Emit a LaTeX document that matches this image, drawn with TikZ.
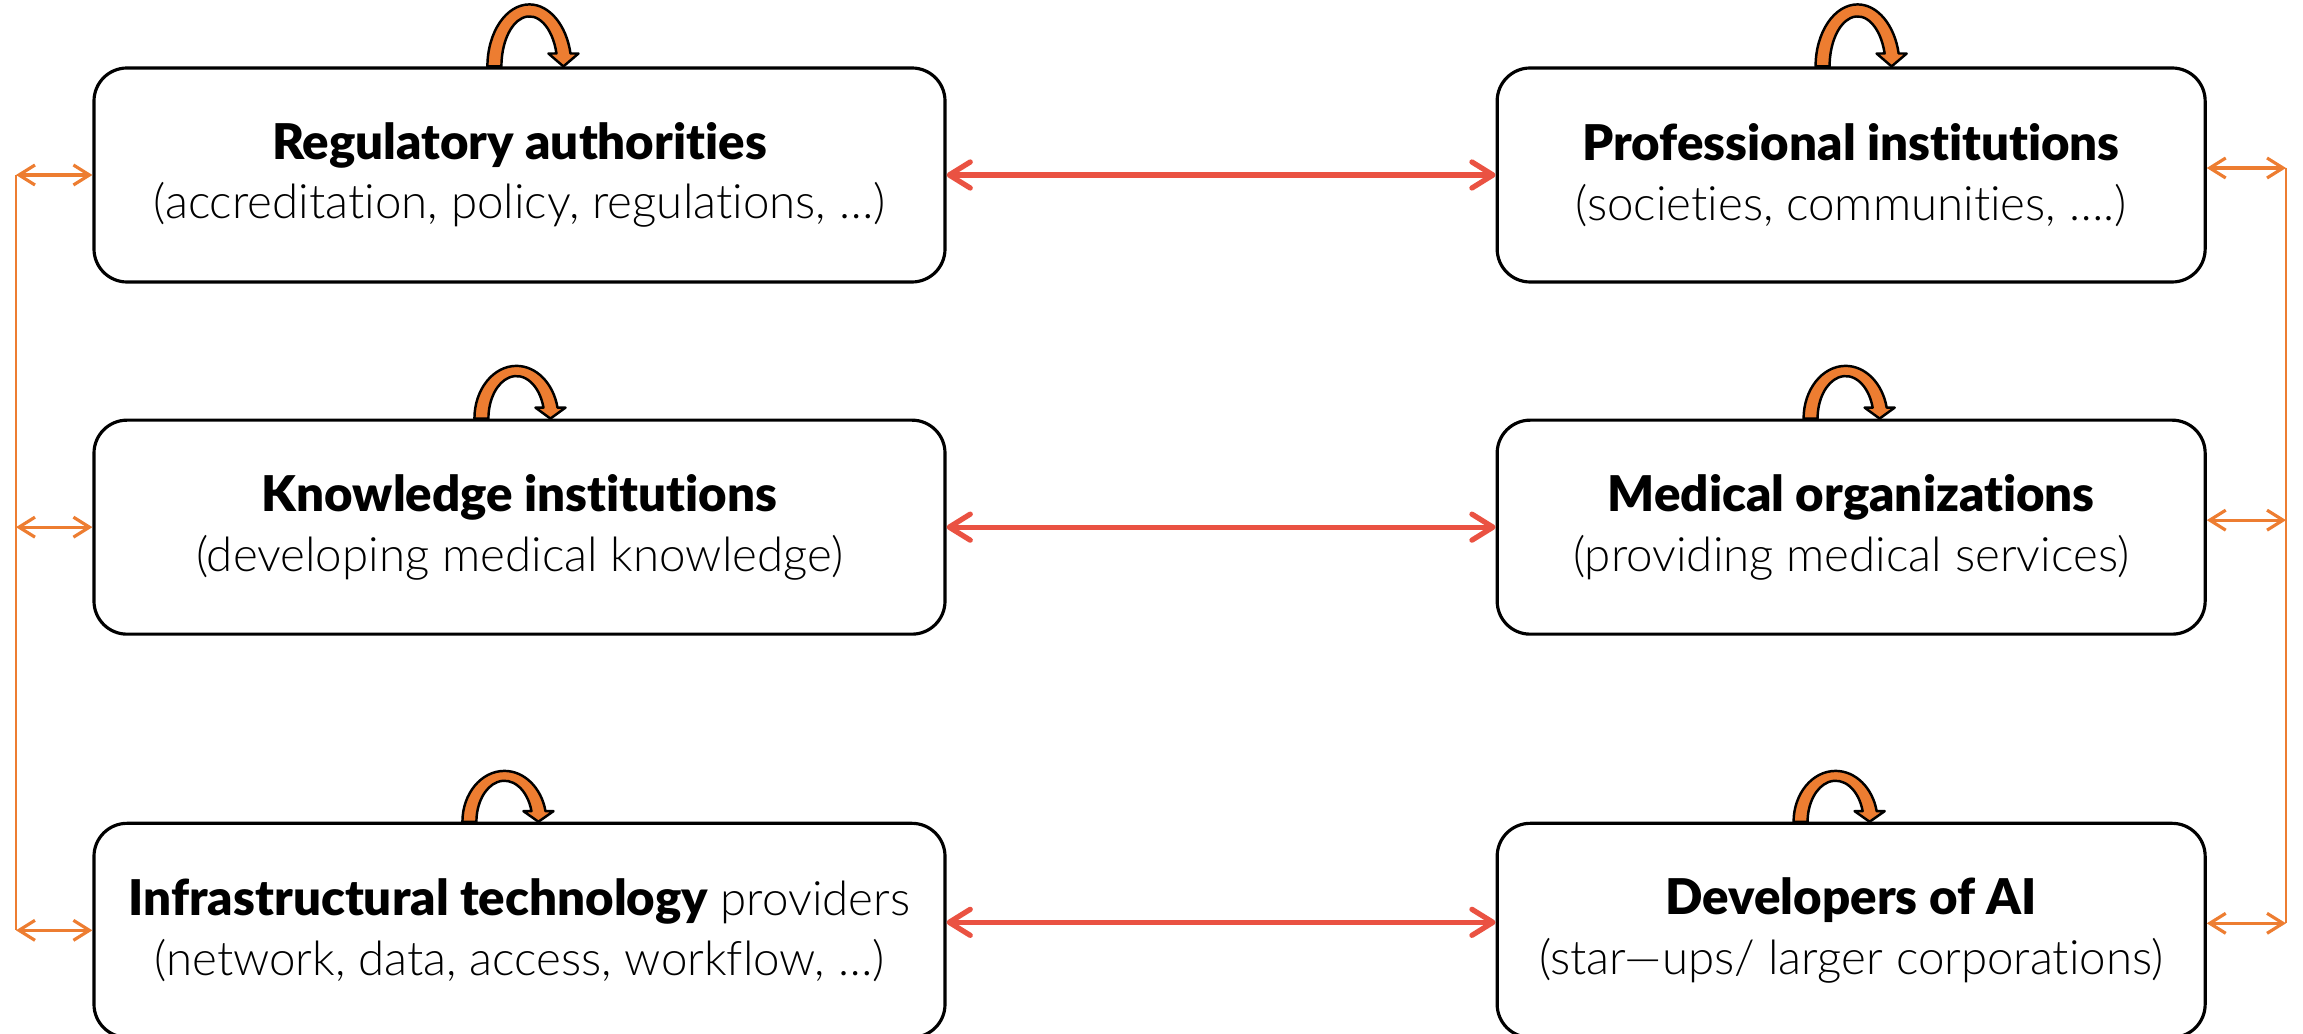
\documentclass[tikz,border=0pt]{standalone}
\usepackage{fontspec}
\setmainfont{Lato Light}[Ligatures={NoCommon}]
\newfontfamily\heavyfont{Lato Black}[Ligatures={NoCommon}]
\usepackage{tikz}
\usetikzlibrary{arrows.meta,positioning,calc}

\definecolor{linkred}{RGB}{234,82,66}
\definecolor{loopor}{RGB}{237,125,49}

\newcommand{\hd}[1]{{\heavyfont\fontsize{14}{15}\selectfont #1}}

% fat curved arrow that sits on top of a box
\tikzset{
  pics/selfloop/.style={code={
    \filldraw[fill=loopor, draw=black, line width=0.7pt, line join=round]
      (0,0) arc[start angle=180, end angle=12, x radius=0.42, y radius=0.62]
      -- ++(0.08,0) -- (0.76,0) -- (0.61,0.129) -- (0.6905,0.1294)
      arc[start angle=15, end angle=180, x radius=0.28, y radius=0.5] -- cycle;
  }}
}

\begin{document}
\begin{tikzpicture}[
  node distance=1.35cm and 5.49cm,
  box/.style={draw, line width=0.9pt, rounded corners=0.33cm, align=center,
    minimum height=2.14cm, inner sep=0pt, font=\fontsize{13.5}{17}\selectfont},
  lbox/.style={box, minimum width=8.51cm},
  rbox/.style={box, minimum width=7.08cm},
  link/.style={{Straight Barb[length=2.1mm,width=2.6mm,round]}-{Straight Barb[length=2.1mm,width=2.6mm,round]},
    line width=1.5pt, linkred},
  bus/.style={loopor, line width=0.6pt},
  tap/.style={{Straight Barb[length=1.6mm,width=2mm]}-{Straight Barb[length=1.6mm,width=2mm]},
    loopor, line width=0.9pt}
]
\useasboundingbox (0,0) rectangle (23.03,10.33);

\node[lbox] (reg) at (5.195,8.58) {\hd{Regulatory authorities}\\(accreditation, policy, regulations, …)};
\node[rbox, right=of reg] (prof) {\hd{Professional institutions}\\(societies, communities, ….)};
\node[lbox, below=of reg] (know) {\hd{Knowledge institutions}\\(developing medical knowledge)};
\node[rbox, below=of prof] (med) {\hd{Medical organizations}\\(providing medical services)};
\node[lbox, below=1.86cm of know] (infra) {\hd{Infrastructural technology} providers\\(network, data, access, workflow, …)};
\node[rbox, below=1.86cm of med] (dev) {\hd{Developers of AI}\\(star—ups/ larger corporations)};

% links between the two columns
\draw[link] (reg) -- (prof);
\draw[link] (know) -- (med);
\draw[link] ([yshift=0.08cm]infra.east) -- ([yshift=0.08cm]dev.west);

% loops on each box
\pic at ([xshift=3.95cm]reg.north west) {selfloop};
\pic at ([xshift=3.20cm]prof.north west) {selfloop};
\pic[yscale=0.85] at ([xshift=3.82cm]know.north west) {selfloop};
\pic[yscale=0.85] at ([xshift=3.08cm]med.north west) {selfloop};
\pic[yscale=0.82] at ([xshift=3.70cm]infra.north west) {selfloop};
\pic[yscale=0.82] at ([xshift=2.98cm]dev.north west) {selfloop};

% side buses
\coordinate (lbus) at (0.16,0);
\coordinate (rbus) at (22.86,0);
\draw[bus] (reg.west -| lbus) -- (infra.west -| lbus);
\draw[tap] (reg.west -| lbus) -- (reg.west);
\draw[tap] (know.west -| lbus) -- (know.west);
\draw[tap] (infra.west -| lbus) -- (infra.west);
\draw[bus] ([yshift=0.07cm]prof.east -| rbus) -- ([yshift=0.07cm]dev.east -| rbus);
\draw[tap] ([yshift=0.07cm]prof.east) -- ([yshift=0.07cm]prof.east -| rbus);
\draw[tap] ([yshift=0.07cm]med.east) -- ([yshift=0.07cm]med.east -| rbus);
\draw[tap] ([yshift=0.07cm]dev.east) -- ([yshift=0.07cm]dev.east -| rbus);
\end{tikzpicture}
\end{document}
